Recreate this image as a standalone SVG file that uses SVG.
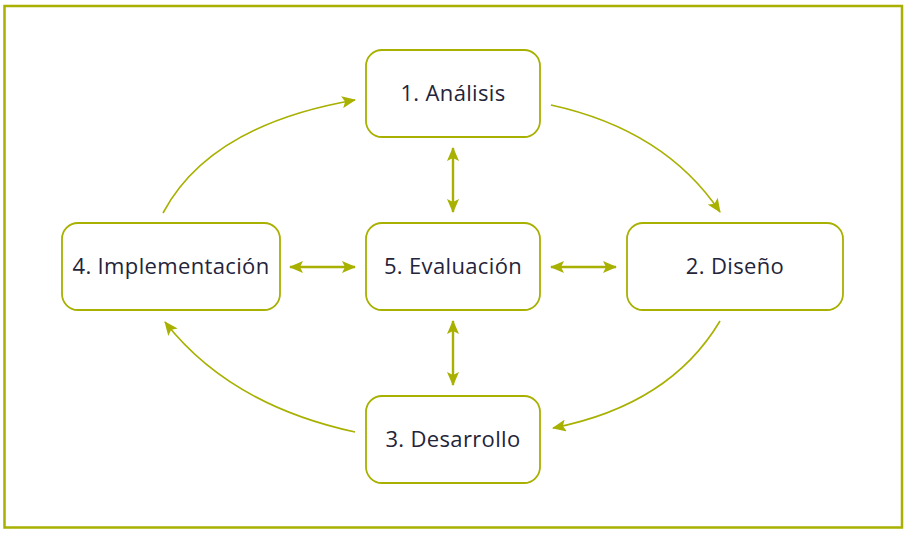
<svg xmlns="http://www.w3.org/2000/svg" width="907" height="535" viewBox="0 0 907 535">
<style>
.frame{fill:none;stroke:#a8b000;stroke-width:2.5}
.box{fill:#fff;stroke:#a8b000;stroke-width:1.8}
.lbl{font-family:"Open Sans","Liberation Sans",sans-serif;font-size:22px;letter-spacing:0.35px;fill:#24243a;text-anchor:middle;dominant-baseline:central}
.curve{fill:none;stroke:#a8b000;stroke-width:1.6}
.dbl{fill:none;stroke:#a8b000;stroke-width:2.4}
</style>
<defs>
<marker id="ah" markerUnits="userSpaceOnUse" viewBox="0 0 14 12" refX="13" refY="6" markerWidth="14" markerHeight="12" orient="auto-start-reverse">
<path d="M0,0 L14,6 L0,12 L3,6 Z" fill="#a8b000"/>
</marker>
</defs>
<rect class="frame" x="4.5" y="6" width="897.5" height="521.5"/>
<g id="connectors">
<path class="curve" d="M551,105 Q665,130 720,212" marker-end="url(#ah)"/>
<path class="curve" d="M720,321 Q670,405 553,428" marker-end="url(#ah)"/>
<path class="curve" d="M355,432 Q230,405 165,322" marker-end="url(#ah)"/>
<path class="curve" d="M163,213 Q210,125 355,100" marker-end="url(#ah)"/>
<line class="dbl" x1="453" y1="148" x2="453" y2="212" marker-start="url(#ah)" marker-end="url(#ah)"/>
<line class="dbl" x1="453" y1="321" x2="453" y2="385" marker-start="url(#ah)" marker-end="url(#ah)"/>
<line class="dbl" x1="290" y1="267" x2="355" y2="267" marker-start="url(#ah)" marker-end="url(#ah)"/>
<line class="dbl" x1="551" y1="267" x2="616" y2="267" marker-start="url(#ah)" marker-end="url(#ah)"/>
</g>
<g id="n1"><rect class="box" x="366" y="50" width="174" height="87" rx="16"/><text class="lbl" x="453" y="91.5">1. Análisis</text></g>
<g id="n2"><rect class="box" x="627" y="223" width="216" height="87" rx="16"/><text class="lbl" x="735" y="264.5">2. Diseño</text></g>
<g id="n3"><rect class="box" x="366" y="396" width="174" height="87" rx="16"/><text class="lbl" x="453" y="437.5">3. Desarrollo</text></g>
<g id="n4"><rect class="box" x="62" y="223" width="218" height="87" rx="16"/><text class="lbl" x="171" y="264.5">4. Implementación</text></g>
<g id="n5"><rect class="box" x="366" y="223" width="174" height="87" rx="16"/><text class="lbl" x="453" y="264.5">5. Evaluación</text></g>
</svg>
